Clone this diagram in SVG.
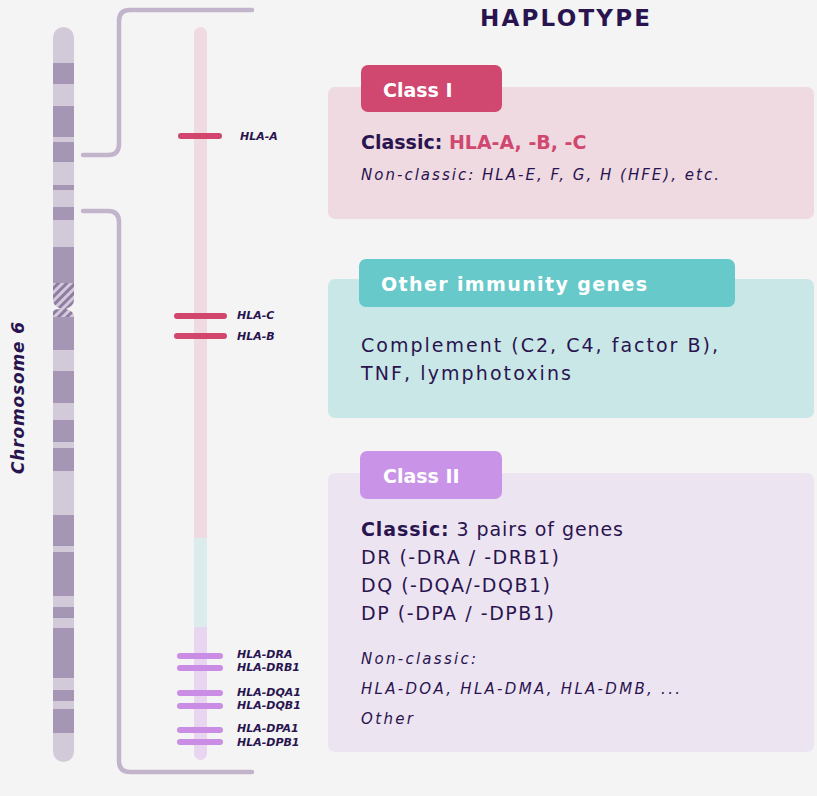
<svg xmlns="http://www.w3.org/2000/svg" width="817" height="796" viewBox="0 0 817 796">
<defs>
<style>
.dk{fill:#a696b6}
.gA{stroke:#d2466e;stroke-width:6;stroke-linecap:round}
.gB{stroke:#c98de6;stroke-width:6;stroke-linecap:round}
.gl{font-family:"DejaVu Sans","Liberation Sans",sans-serif;font-style:italic;font-weight:700;font-size:11px;fill:#2a1450}
.br{fill:none;stroke:#c2b5cb;stroke-width:4.5;stroke-linecap:round}
.tab{font-family:"DejaVu Sans","Liberation Sans",sans-serif;font-weight:700;font-size:19px;fill:#fff}
.tx{font-family:"DejaVu Sans","Liberation Sans",sans-serif;font-size:19px;fill:#2a1450}
.it{font-family:"DejaVu Sans","Liberation Sans",sans-serif;font-style:italic;font-size:15px;fill:#2a1450}
</style>
<pattern id="hatch" width="6" height="6" patternUnits="userSpaceOnUse" patternTransform="rotate(-45)">
<rect width="6" height="6" fill="#d2cad9"/><rect width="6" height="3" fill="#8e7ca2"/>
</pattern>
<clipPath id="chr"><rect x="53" y="27" width="21" height="735" rx="10.5"/></clipPath>
</defs>
<rect width="817" height="796" fill="#f4f4f4"/>
<g id="chromosome">
<g clip-path="url(#chr)">
<rect x="53" y="27" width="21" height="735" fill="#d2cad9"/>
<rect class="dk" x="53" y="63" width="21" height="21"/>
<rect class="dk" x="53" y="106" width="21" height="31"/>
<rect class="dk" x="53" y="142" width="21" height="20"/>
<rect class="dk" x="53" y="185" width="21" height="5"/>
<rect class="dk" x="53" y="207" width="21" height="13"/>
<rect class="dk" x="53" y="247" width="21" height="36"/>
<rect class="dk" x="53" y="317" width="21" height="33"/>
<rect class="dk" x="53" y="371" width="21" height="32"/>
<rect class="dk" x="53" y="420" width="21" height="22"/>
<rect class="dk" x="53" y="448" width="21" height="23"/>
<rect class="dk" x="53" y="515" width="21" height="31"/>
<rect class="dk" x="53" y="552" width="21" height="44"/>
<rect class="dk" x="53" y="607" width="21" height="11"/>
<rect class="dk" x="53" y="628" width="21" height="50"/>
<rect class="dk" x="53" y="690" width="21" height="11"/>
<rect class="dk" x="53" y="709" width="21" height="24"/>
</g>
<rect x="53" y="283" width="21" height="34" fill="#f4f4f4"/>
<path d="M53 283 H74 V300 Q74 306 66 309 Q74 311 74 317 H53 V311 Q53 309 61 309 Q53 306 53 300 Z" fill="url(#hatch)"/>
<text transform="translate(24 398) rotate(-90)" text-anchor="middle" textLength="152" style="font-family:'DejaVu Sans','Liberation Sans',sans-serif;font-weight:700;font-style:italic;font-size:17px;fill:#2a1450">Chromosome 6</text>
</g>
<g id="connectors">
<path class="br" d="M83 155 H108 Q119 155 119 144 V21 Q119 10 130 10 H252"/>
<path class="br" d="M83 211 H108 Q119 211 119 222 V761 Q119 772 130 772 H252"/>
</g>
<g id="haplotype">
<rect x="194" y="27" width="13" height="20" rx="6.5" fill="#f0dae2"/>
<rect x="194" y="37" width="13" height="501" fill="#f0dae2"/>
<rect x="194" y="538" width="13" height="89" fill="#dcecec"/>
<rect x="194" y="627" width="13" height="123" fill="#e8d6f0"/>
<rect x="194" y="740" width="13" height="20" rx="6.5" fill="#e8d6f0"/>
<line class="gA" x1="181" y1="136" x2="219" y2="136"/>
<line class="gA" x1="177" y1="316" x2="224" y2="316"/>
<line class="gA" x1="177" y1="336" x2="224" y2="336"/>
<line class="gB" x1="180" y1="656" x2="220" y2="656"/>
<line class="gB" x1="180" y1="668" x2="220" y2="668"/>
<line class="gB" x1="180" y1="693" x2="220" y2="693"/>
<line class="gB" x1="180" y1="706" x2="220" y2="706"/>
<line class="gB" x1="180" y1="730" x2="220" y2="730"/>
<line class="gB" x1="180" y1="742" x2="220" y2="742"/>
<text class="gl" x="240" y="140">HLA-A</text>
<text class="gl" x="237" y="319">HLA-C</text>
<text class="gl" x="237" y="340">HLA-B</text>
<text class="gl" x="237" y="658">HLA-DRA</text>
<text class="gl" x="237" y="671">HLA-DRB1</text>
<text class="gl" x="237" y="696">HLA-DQA1</text>
<text class="gl" x="237" y="709">HLA-DQB1</text>
<text class="gl" x="237" y="732">HLA-DPA1</text>
<text class="gl" x="237" y="746">HLA-DPB1</text>
</g>
<text x="565" y="26" text-anchor="middle" textLength="170" style="font-family:'DejaVu Sans','Liberation Sans',sans-serif;font-weight:700;font-size:23px;fill:#2a1450">HAPLOTYPE</text>
<g id="class1">
<rect x="328" y="87" width="486" height="132" rx="7" fill="#efdae1"/>
<rect x="361" y="65" width="141" height="47" rx="7" fill="#d04870"/>
<text class="tab" x="383" y="97">Class I</text>
<text class="tx" x="361" y="149"><tspan font-weight="700">Classic: </tspan><tspan font-weight="700" fill="#d04870">HLA-A, -B, -C</tspan></text>
<text class="it" x="361" y="180" textLength="358">Non-classic: HLA-E, F, G, H (HFE), etc.</text>
</g>
<g id="other">
<rect x="328" y="279" width="486" height="139" rx="7" fill="#c9e7e6"/>
<rect x="359" y="259" width="376" height="48" rx="7" fill="#68c9cb"/>
<text class="tab" x="381" y="291" textLength="266">Other immunity genes</text>
<text class="tx" x="361" y="352" font-size="20" textLength="357">Complement (C2, C4, factor B),</text>
<text class="tx" x="361" y="380" font-size="20" textLength="210">TNF, lymphotoxins</text>
</g>
<g id="class2">
<rect x="328" y="473" width="486" height="279" rx="7" fill="#ede4f1"/>
<rect x="360" y="451" width="142" height="48" rx="7" fill="#c994e8"/>
<text class="tab" x="383" y="483">Class II</text>
<text class="tx" x="361" y="536" textLength="262"><tspan font-weight="700">Classic:</tspan> 3 pairs of genes</text>
<text class="tx" x="361" y="564" textLength="198">DR (-DRA / -DRB1)</text>
<text class="tx" x="361" y="592" textLength="189">DQ (-DQA/-DQB1)</text>
<text class="tx" x="361" y="620" textLength="193">DP (-DPA / -DPB1)</text>
<text class="it" x="361" y="664" textLength="115">Non-classic:</text>
<text class="it" x="361" y="694" textLength="319">HLA-DOA, HLA-DMA, HLA-DMB, ...</text>
<text class="it" x="361" y="724" textLength="52">Other</text>
</g>
</svg>
